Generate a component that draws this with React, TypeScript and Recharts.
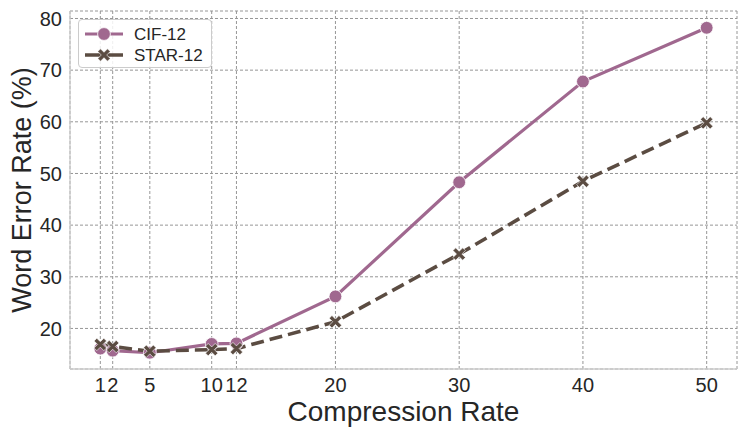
import React from 'react';
import { LineChart, Line, XAxis, YAxis, CartesianGrid, Label } from 'recharts';

const compressionRates = [1, 2, 5, 10, 12, 20, 30, 40, 50];
const cifWer = [16.1, 15.7, 15.3, 17.0, 17.1, 26.2, 48.3, 67.8, 78.2];
const starWer = [16.9, 16.5, 15.6, 15.9, 16.1, 21.3, 34.4, 48.5, 59.8];
const yTicks = [20, 30, 40, 50, 60, 70, 80];

const CIF_COLOR = '#a0688f';
const STAR_COLOR = '#5b4c42';
const FONT = '"Liberation Sans", Arial, sans-serif';

const data = compressionRates.map((rate, i) => ({
  rate,
  cif: cifWer[i],
  star: starWer[i],
}));

const xPath = (cx: number, cy: number, s: number, d: number) => {
  const pts = [
    [0, -d], [s - d, -s], [s, -s + d], [d, 0], [s, s - d], [s - d, s],
    [0, d], [-s + d, s], [-s, s - d], [-d, 0], [-s, -s + d], [-s + d, -s],
  ];
  return pts.map(([x, y], i) => `${i === 0 ? 'M' : 'L'}${cx + x},${cy + y}`).join(' ') + ' Z';
};

const CircleDot = (props: any) => {
  const { cx, cy, index } = props;
  return <circle key={`c-${index}`} cx={cx} cy={cy} r={6.4} fill={CIF_COLOR} stroke="#fff" strokeWidth={0.8} />;
};

const CrossDot = (props: any) => {
  const { cx, cy, index } = props;
  return <path key={`x-${index}`} d={xPath(cx, cy, 6.2, 2.7)} fill={STAR_COLOR} stroke="#fff" strokeWidth={0.6} />;
};

// legend drawn over the plot, matplotlib style (upper left)
const LegendBox = () => (
  <div
    style={{
      position: 'absolute',
      left: 78,
      top: 19,
      width: 134,
      height: 49,
      border: '1px solid #cccccc',
      borderRadius: 4,
      background: 'rgba(255,255,255,0.85)',
      boxSizing: 'border-box',
    }}
  >
    <svg width={132} height={47} style={{ display: 'block' }}>
      <line x1={6} x2={44} y1={14} y2={14} stroke={CIF_COLOR} strokeWidth={3.2} />
      <circle cx={25} cy={14} r={6.4} fill={CIF_COLOR} stroke="#fff" strokeWidth={0.8} />
      <text x={55} y={20} fontSize={17} fill="#262626" fontFamily={FONT}>CIF-12</text>
      <line x1={6} x2={44} y1={35} y2={35} stroke={STAR_COLOR} strokeWidth={3.6} />
      <path d={xPath(25, 35, 6.2, 2.7)} fill={STAR_COLOR} stroke="#fff" strokeWidth={0.6} />
      <text x={55} y={41} fontSize={17} fill="#262626" fontFamily={FONT}>STAR-12</text>
    </svg>
  </div>
);

export default function App() {
  return (
    <div style={{ position: 'absolute', left: 0, top: 0, width: 747, height: 436, background: '#fff', fontFamily: FONT }}>
      <LineChart width={747} height={436} data={data} margin={{ top: 11, right: 10, bottom: 0, left: 0 }}>
        <CartesianGrid stroke="#969696" strokeDasharray="3 2" strokeWidth={1} />
        <XAxis
          dataKey="rate"
          type="number"
          domain={[-1.45, 52.45]}
          ticks={compressionRates}
          allowDataOverflow
          height={67}
          tickLine={false}
          tickSize={0}
          tickMargin={9}
          axisLine={{ stroke: '#cccccc', strokeWidth: 1.3 }}
          tick={{ fontSize: 20, fill: '#262626', fontFamily: FONT }}
          interval={0}
        >
          <Label value="Compression Rate" position="insideBottom" offset={15} fontSize={28} fill="#262626" fontFamily={FONT} />
        </XAxis>
        <YAxis
          type="number"
          domain={[12.15, 81.45]}
          ticks={yTicks}
          allowDataOverflow
          width={70}
          tickLine={false}
          tickSize={0}
          tickMargin={8}
          axisLine={{ stroke: '#cccccc', strokeWidth: 1.3 }}
          tick={{ fontSize: 20, fill: '#262626', fontFamily: FONT }}
        >
          <Label
            value="Word Error Rate (%)"
            position="insideLeft"
            angle={-90}
            offset={21}
            fontSize={27}
            fill="#262626"
            fontFamily={FONT}
            style={{ textAnchor: 'middle' }}
          />
        </YAxis>
        <Line
          type="linear"
          dataKey="cif"
          stroke={CIF_COLOR}
          strokeWidth={3.2}
          dot={CircleDot}
          activeDot={false}
          isAnimationActive={false}
        />
        <Line
          type="linear"
          dataKey="star"
          stroke={STAR_COLOR}
          strokeWidth={3.6}
          strokeDasharray="13 6"
          dot={CrossDot}
          activeDot={false}
          isAnimationActive={false}
        />
      </LineChart>
      <LegendBox />
    </div>
  );
}
